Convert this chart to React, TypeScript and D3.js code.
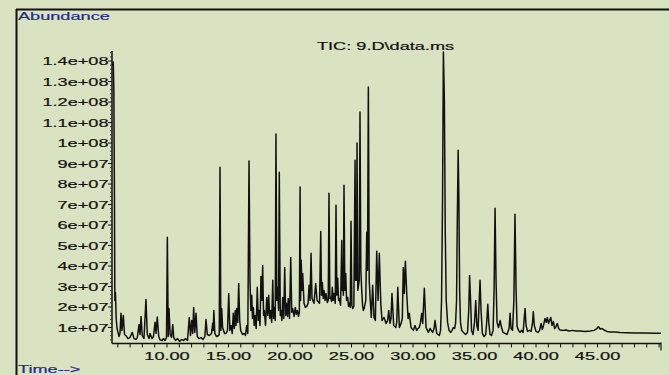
import React from 'react';
import * as d3 from 'd3';

// retention time (min) of each point of the TIC trace
const retentionTimes = [
  5.57, 5.63, 5.68, 5.73, 5.76, 5.81, 5.87, 5.94, 6.02, 6.10, 6.18, 6.26, 6.34, 6.45, 6.55, 6.73, 6.83, 6.99, 7.18, 7.32,
  7.48, 7.59, 7.73, 7.81, 7.89, 7.99, 8.13, 8.29, 8.40, 8.54, 8.62, 8.78, 8.90, 9.03, 9.11, 9.21, 9.33, 9.43, 9.60, 9.72,
  9.84, 9.96, 10.03, 10.10, 10.16, 10.26, 10.37, 10.47, 10.55, 10.69, 10.86, 11.02, 11.18, 11.34, 11.51, 11.67, 11.81, 11.91, 12.01, 12.09,
  12.17, 12.26, 12.36, 12.46, 12.60, 12.77, 12.93, 13.08, 13.17, 13.28, 13.44, 13.62, 13.72, 13.76, 13.81, 13.89, 14.03, 14.19, 14.25, 14.31,
  14.38, 14.45, 14.52, 14.68, 14.80, 14.92, 15.02, 15.11, 15.21, 15.30, 15.39, 15.47, 15.55, 15.61, 15.67, 15.75, 15.83, 15.91, 15.99, 16.14,
  16.29, 16.38, 16.48, 16.57, 16.67, 16.75, 16.82, 16.89, 16.95, 17.02, 17.09, 17.16, 17.25, 17.34, 17.42, 17.48, 17.56, 17.64, 17.71, 17.78,
  17.85, 17.91, 18.01, 18.11, 18.19, 18.27, 18.35, 18.43, 18.51, 18.60, 18.66, 18.73, 18.80, 18.86, 18.93, 19.00, 19.07, 19.13, 19.21, 19.27,
  19.34, 19.41, 19.49, 19.57, 19.65, 19.73, 19.80, 19.86, 19.96, 20.06, 20.14, 20.22, 20.33, 20.43, 20.51, 20.60, 20.69, 20.76, 20.82, 20.86,
  20.91, 20.98, 21.03, 21.14, 21.25, 21.36, 21.47, 21.55, 21.63, 21.71, 21.79, 21.95, 22.09, 22.20, 22.40, 22.50, 22.56, 22.63, 22.70, 22.77,
  22.85, 22.93, 23.03, 23.11, 23.17, 23.24, 23.31, 23.38, 23.44, 23.51, 23.58, 23.68, 23.74, 23.81, 23.88, 23.95, 24.01, 24.11, 24.21, 24.25,
  24.29, 24.34, 24.39, 24.46, 24.53, 24.60, 24.69, 24.76, 24.82, 24.90, 24.96, 25.03, 25.10, 25.19, 25.29, 25.33, 25.37, 25.41, 25.45, 25.51,
  25.63, 25.69, 25.76, 25.83, 25.90, 25.96, 26.03, 26.16, 26.24, 26.30, 26.37, 26.44, 26.51, 26.61, 26.72, 26.83, 26.94, 27.05, 27.16, 27.26,
  27.38, 27.48, 27.64, 27.81, 27.93, 28.03, 28.13, 28.21, 28.29, 28.43, 28.60, 28.68, 28.76, 28.89, 29.03, 29.13, 29.21, 29.29, 29.38, 29.49,
  29.60, 29.70, 29.84, 30.03, 30.16, 30.30, 30.41, 30.51, 30.61, 30.71, 30.79, 30.92, 31.06, 31.25, 31.38, 31.60, 31.71, 31.79, 31.93, 32.03,
  32.14, 32.24, 32.32, 32.40, 32.47, 32.55, 32.62, 32.70, 32.81, 32.93, 33.07, 33.17, 33.28, 33.38, 33.46, 33.54, 33.60, 33.67, 33.73, 33.79,
  33.86, 33.96, 34.11, 34.27, 34.43, 34.53, 34.60, 34.68, 34.76, 34.88, 35.00, 35.10, 35.19, 35.29, 35.38, 35.45, 35.53, 35.64, 35.77, 35.91,
  36.00, 36.08, 36.16, 36.26, 36.38, 36.51, 36.59, 36.67, 36.75, 36.83, 36.95, 37.08, 37.20, 37.32, 37.48, 37.64, 37.81, 37.89, 37.97, 38.09,
  38.20, 38.29, 38.38, 38.46, 38.58, 38.70, 38.82, 38.95, 39.04, 39.11, 39.19, 39.31, 39.47, 39.60, 39.72, 39.78, 39.86, 40.00, 40.16, 40.29,
  40.41, 40.51, 40.61, 40.73, 40.83, 40.92, 41.02, 41.10, 41.20, 41.30, 41.41, 41.51, 41.59, 41.73, 41.84, 41.95, 42.20, 42.44, 42.68, 42.93,
  43.25, 43.58, 43.99, 44.39, 44.72, 44.92, 45.07, 45.21, 45.37, 45.53, 45.77, 46.02, 46.42, 46.83, 47.40, 48.05, 48.86, 49.68, 50.16,
];

// abundance of each point, in millions
const abundance = [
  137.6, 139.6, 125.9, 72.1, 23.2, 27.1, 14.4, 9.5, 7.6, 5.6, 7.1, 16.9, 8.6, 15.9, 6.6, 5.6, 4.6, 5.1, 7.6, 4.6,
  4.2, 5.1, 11.5, 6.6, 15.4, 6.1, 4.6, 23.7, 6.6, 4.6, 7.1, 4.6, 5.6, 12.6, 7.1, 15.1, 5.6, 4.0, 3.7, 4.6,
  3.7, 5.1, 54.0, 5.6, 19.3, 6.6, 5.1, 11.5, 5.1, 3.7, 4.6, 3.2, 4.2, 3.7, 4.6, 3.7, 14.9, 6.1, 13.4, 7.1,
  19.8, 7.6, 16.9, 5.6, 4.6, 5.1, 4.2, 5.6, 13.9, 6.6, 6.1, 7.1, 12.1, 8.6, 18.3, 7.1, 5.6, 6.1, 6.6, 88.2,
  8.6, 19.3, 10.0, 7.1, 7.1, 8.6, 26.6, 8.6, 11.0, 7.1, 16.9, 9.5, 18.3, 11.0, 19.3, 12.5, 31.5, 13.4, 8.6, 6.6,
  7.1, 6.1, 11.0, 7.1, 91.2, 32.0, 18.3, 25.7, 14.4, 19.8, 11.0, 15.9, 9.5, 29.6, 13.4, 18.3, 11.0, 34.9, 23.2, 40.3,
  15.9, 18.3, 11.0, 24.7, 15.9, 25.7, 14.4, 18.3, 12.5, 33.0, 14.4, 19.8, 13.4, 104.4, 23.2, 29.6, 18.3, 85.8, 15.9, 18.3,
  13.4, 24.7, 14.4, 39.3, 15.9, 21.8, 15.4, 24.2, 14.4, 44.2, 17.4, 19.3, 15.4, 19.8, 16.4, 18.3, 15.4, 17.4, 78.5, 23.2,
  42.8, 28.1, 36.4, 21.8, 19.8, 20.3, 21.8, 30.6, 23.2, 46.2, 24.2, 21.8, 31.5, 23.2, 21.8, 56.9, 25.7, 32.0, 24.2, 28.1,
  23.2, 26.6, 22.2, 23.2, 75.5, 24.2, 24.7, 22.7, 29.6, 23.2, 26.6, 21.8, 69.7, 25.7, 34.0, 23.2, 24.2, 20.8, 52.5, 28.1,
  36.4, 25.7, 79.4, 28.1, 36.4, 23.2, 24.7, 20.3, 21.8, 19.8, 61.8, 20.8, 19.3, 20.3, 91.6, 33.0, 42.8, 33.0, 100.0, 28.1,
  33.0, 115.1, 37.9, 28.1, 20.8, 18.3, 19.3, 23.2, 56.5, 37.9, 127.3, 33.0, 24.7, 14.9, 30.6, 14.9, 13.4, 47.2, 23.2, 46.2,
  21.8, 13.4, 14.9, 12.0, 13.4, 18.3, 12.0, 14.4, 26.6, 11.0, 10.0, 12.5, 29.6, 10.0, 12.0, 14.4, 39.3, 26.6, 42.3, 26.6,
  14.4, 16.9, 10.0, 8.6, 11.0, 8.6, 9.5, 10.0, 12.5, 16.9, 12.0, 29.1, 10.0, 7.6, 9.5, 7.6, 9.5, 13.4, 7.1, 6.6,
  6.1, 8.6, 23.2, 72.1, 144.4, 121.0, 57.4, 23.2, 12.5, 8.6, 7.6, 8.6, 10.0, 9.5, 12.0, 23.2, 62.3, 96.5, 72.1, 28.1,
  12.5, 8.6, 7.6, 6.6, 7.6, 18.3, 35.4, 23.2, 8.6, 6.6, 12.5, 23.2, 11.0, 8.6, 23.2, 33.0, 18.3, 7.1, 5.6, 6.6,
  13.4, 21.3, 12.5, 6.6, 6.1, 8.6, 28.1, 68.2, 33.0, 12.5, 10.0, 13.4, 10.0, 7.6, 7.1, 6.6, 9.5, 16.9, 9.5, 8.6,
  23.2, 65.3, 28.1, 10.5, 8.6, 7.6, 8.6, 7.6, 14.4, 19.3, 11.0, 8.1, 8.6, 8.1, 12.5, 17.8, 11.0, 8.1, 7.6, 8.6,
  12.0, 9.0, 11.0, 14.4, 12.5, 14.9, 12.0, 13.4, 14.9, 11.0, 13.0, 9.5, 10.0, 12.0, 9.5, 8.8, 8.6, 8.8, 8.3, 8.6,
  8.3, 8.3, 8.1, 8.3, 8.6, 9.3, 10.5, 9.3, 9.5, 8.8, 8.1, 7.8, 7.8, 7.6, 7.5, 7.3, 7.3, 7.2, 7.2,
];

const timeLabelValues = [10, 15, 20, 25, 30, 35, 40, 45];
const minuteTicks = d3.range(6, 51);
const abundanceTicks = [10, 20, 30, 40, 50, 60, 70, 80, 90, 100, 110, 120, 130, 140];
const abundanceMinorTicks = d3.range(4, 145, 2).filter((v) => v % 10 !== 0);
const timeDomain = [5.53, 50.16];
const abundanceDomain = [2.2, 144.9];

const W = 669;
const H = 375;
const BG = '#dae3c1';
const BLUE = '#1f2b8f';
const FONT = '"Liberation Sans", Arial, sans-serif';
const STRETCH = 1.65;

const fmtAbundance = (m: number) => {
  const e = m >= 100 ? 8 : 7;
  const mant = +(m / Math.pow(10, e - 6)).toFixed(1);
  return `${mant}e+0${e}`;
};

const Label = ({ x, y, anchor = 'start', fill = '#111', children }: any) => (
  <text
    transform={`translate(${x},${y}) scale(${STRETCH},1)`}
    textAnchor={anchor}
    fontFamily={FONT}
    fontSize={11}
    fill={fill}
    stroke={fill}
    strokeWidth={0.2}
  >
    {children}
  </text>
);

export default function App() {
  const x = d3.scaleLinear().domain(timeDomain).range([112, 661]);
  const y = d3.scaleLinear().domain(abundanceDomain).range([343.5, 51]);
  const axisY = y(abundanceDomain[0]);
  const axisX = x(timeDomain[0]);

  const line = d3
    .line<number>()
    .x((_, i) => x(retentionTimes[i]))
    .y((d) => y(d));

  return (
    <svg
      width={W}
      height={H}
      style={{ position: 'absolute', left: 0, top: 0, display: 'block' }}
    >
      <rect x={0} y={0} width={W} height={H} fill={BG} />
      {/* frame */}
      <line x1={16} y1={9.5} x2={W} y2={9.5} stroke="#111" strokeWidth={2} />
      <line x1={16.5} y1={9} x2={16.5} y2={H} stroke="#111" strokeWidth={2} />

      <Label x={18} y={20} fill={BLUE}>Abundance</Label>
      <Label x={18} y={372.5} fill={BLUE}>Time--&gt;</Label>
      <Label x={317} y={50}>{'TIC: 9.D\\data.ms'}</Label>

      {/* y axis */}
      <line x1={axisX} y1={y(abundanceDomain[1])} x2={axisX} y2={axisY} stroke="#111" strokeWidth={1.5} />
      {abundanceMinorTicks.map((v) => (
        <line key={`ym${v}`} x1={axisX - 2} x2={axisX} y1={y(v)} y2={y(v)} stroke="#333" strokeWidth={1} />
      ))}
      {abundanceTicks.map((v) => (
        <g key={`y${v}`}>
          <line x1={axisX - 4} x2={axisX} y1={y(v)} y2={y(v)} stroke="#111" strokeWidth={1} />
          <Label x={108.5} y={y(v) + 4} anchor="end">{fmtAbundance(v)}</Label>
        </g>
      ))}

      {/* x axis */}
      <line x1={axisX} y1={axisY} x2={x(timeDomain[1])} y2={axisY} stroke="#111" strokeWidth={1.5} />
      {minuteTicks.map((t) => (
        <line key={`xt${t}`} x1={x(t)} x2={x(t)} y1={axisY} y2={axisY + 4} stroke="#111" strokeWidth={1} />
      ))}
      <line x1={x(timeDomain[1])} x2={x(timeDomain[1])} y1={axisY - 1} y2={axisY + 7} stroke="#111" strokeWidth={1.2} />
      {timeLabelValues.map((t) => (
        <Label key={`xl${t}`} x={x(t)} y={359.5} anchor="middle">{t.toFixed(2)}</Label>
      ))}

      {/* TIC trace */}
      <path d={line(abundance) || ''} fill="none" stroke="#111" strokeWidth={1.5} strokeLinejoin="round" />
    </svg>
  );
}
